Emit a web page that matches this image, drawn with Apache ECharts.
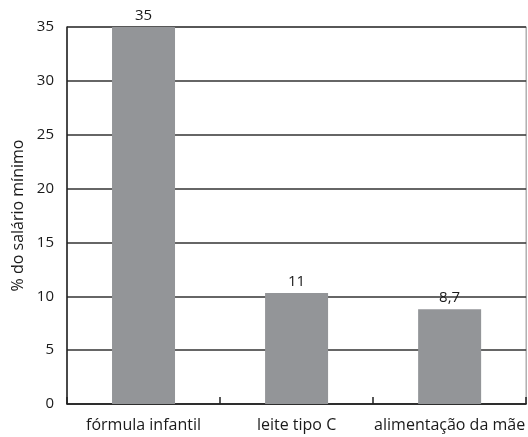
<!DOCTYPE html>
<html><head><meta charset="utf-8">
<script src="https://cdn.jsdelivr.net/npm/echarts@6/dist/echarts.min.js"></script>
<style>html,body{margin:0;padding:0;background:#fff}#c{width:528px;height:437px}</style>
</head><body><div id="c"></div>
<script>
const categories = ["fórmula infantil", "leite tipo C", "alimentação da mãe"];
const barValues = [35, 10.3, 8.8];
const barLabels = ["35", "11", "8,7"];
const yTicks = [0, 5, 10, 15, 20, 25, 30, 35];
const yName = "% do salário mínimo";

const font = "Open Sans";
const chart = echarts.init(document.getElementById('c'), null, {renderer: 'canvas'});
chart.setOption({
  animation: false,
  textStyle: {fontFamily: font},
  grid: {left: 67, right: 1, top: 27, bottom: 33, show: true, borderColor: '#888', borderWidth: 1, backgroundColor: 'transparent'},
  xAxis: {
    type: 'category', data: categories,
    axisLine: {lineStyle: {color: '#222', width: 1.5}},
    axisTick: {show: true, inside: true, length: 7, interval: 0, lineStyle: {color: '#222', width: 1.5}},
    axisLabel: {color: '#1a1a1a', fontSize: 16, margin: 13, interval: 0, fontFamily: font}
  },
  yAxis: {
    type: 'value', min: yTicks[0], max: yTicks[yTicks.length - 1], interval: 5,
    name: yName, nameLocation: 'middle', nameGap: 40, nameRotate: 90,
    nameTextStyle: {color: '#1a1a1a', fontSize: 16, fontFamily: font},
    axisLine: {show: true, lineStyle: {color: '#222', width: 1.5}},
    axisTick: {show: false},
    axisLabel: {color: '#1a1a1a', fontSize: 15, margin: 13, fontFamily: font},
    splitLine: {lineStyle: {color: '#333', width: 1.5}}
  },
  series: [{
    type: 'bar', data: barValues, barWidth: 63,
    itemStyle: {color: '#939598'},
    label: {show: true, position: 'top', distance: 4, color: '#1a1a1a', fontSize: 15, fontFamily: font,
      formatter: p => barLabels[p.dataIndex]}
  }]
});
</script></body></html>
